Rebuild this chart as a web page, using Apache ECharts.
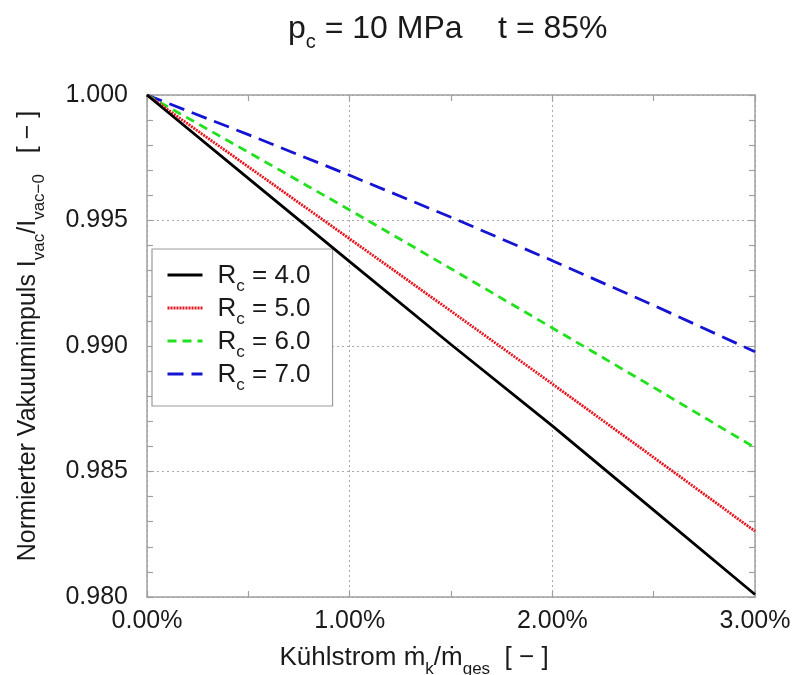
<!DOCTYPE html>
<html>
<head>
<meta charset="utf-8">
<script src="https://cdn.jsdelivr.net/npm/echarts@6/dist/echarts.min.js"></script>
<style>
  html, body { margin: 0; padding: 0; background: #fff; }
  #chart { width: 795px; height: 675px; }
</style>
</head>
<body>
<div id="chart"></div>
<script>
// Cooling mass-flow fraction in percent
const coolantShare = [0, 0.5, 1.0, 1.5, 2.0, 2.5, 3.0];

// Normalised vacuum specific impulse for each mixture ratio R_c
const rc4 = [1.0000, 0.99668, 0.99336, 0.99006, 0.98682, 0.98346, 0.98010];
const rc5 = [1.0000, 0.99714, 0.99427, 0.99139, 0.98849, 0.98556, 0.98262];
const rc6 = [1.0000, 0.99772, 0.99542, 0.99308, 0.99072, 0.98835, 0.98595];
const rc7 = [1.0000, 0.99842, 0.99680, 0.99513, 0.99340, 0.99162, 0.98977];

const seriesNames = ['4.0', '5.0', '6.0', '7.0'];
const seriesValues = [rc4, rc5, rc6, rc7];
const seriesColors = ['#000000', '#e8141e', '#22e01e', '#1414d2'];
const seriesDash = ['solid', [2, 1], [9, 6], [16, 8]];

const xTicks = [0, 1, 2, 3];
const yTicks = [0.980, 0.985, 0.990, 0.995, 1.000];

const FONT = 'Liberation Sans, Arial, sans-serif';
const AXIS_GRAY = '#a0a0a0';
const TEXT = '#1a1a1a';

function pairs(xs, ys) { return xs.map((x, i) => [x, ys[i]]); }

function subRich(size, subSize, lh, drop) {
  return {
    n: { fontFamily: FONT, fontSize: size, fontWeight: 'normal', color: TEXT, lineHeight: lh, verticalAlign: 'bottom' },
    s: { fontFamily: FONT, fontSize: subSize, fontWeight: 'normal', color: TEXT, lineHeight: lh - 8, verticalAlign: 'bottom', padding: [0, 0, -drop, 0] }
  };
}

const chart = echarts.init(document.getElementById('chart'), null, { renderer: 'canvas' });

const baseAxis = {
  type: 'value',
  axisLine: { show: true, onZero: false, lineStyle: { color: AXIS_GRAY, width: 1.5 } },
  axisTick: { show: true, inside: true, length: 6, lineStyle: { color: AXIS_GRAY, width: 1.2 } },
  minorTick: { show: true, length: 6, lineStyle: { color: AXIS_GRAY, width: 1.2 } },
  splitLine: { show: false },
  minorSplitLine: { show: false }
};

const option = {
  backgroundColor: '#ffffff',
  animation: false,
  title: {
    text: '{n|p}{s|c}{n| = 10 MPa    t = 85%}',
    left: 283,
    top: 2,
    textStyle: { fontWeight: 'normal', rich: subRich(32, 20, 38, 7) }
  },
  grid: { left: 147, right: 40, top: 95, bottom: 78, containLabel: false, outerBoundsMode: 'none' },
  legend: {
    orient: 'vertical',
    left: 152,
    top: 249,
    width: 182,
    itemWidth: 35,
    itemHeight: 14,
    itemGap: 1,
    padding: [14, 22, 12, 14],
    backgroundColor: '#ffffff',
    borderColor: '#9a9a9a',
    borderWidth: 1.2,
    borderRadius: 0,
    // line sample only, no marker
    itemStyle: { opacity: 0 },
    lineStyle: { width: 3 },
    data: seriesNames,
    formatter: n => '{n|R}{s|c}{n| = ' + n + '}',
    textStyle: { padding: [0, 0, 0, 10], rich: subRich(26, 17, 28, 6) }
  },
  xAxis: [
    Object.assign({}, baseAxis, {
      min: 0, max: 3, interval: 1,
      minorTick: Object.assign({}, baseAxis.minorTick, { splitNumber: 2 }),
      splitLine: { show: true, lineStyle: { color: '#aaaaaa', type: [2, 3], width: 1 } },
      axisLabel: {
        fontFamily: FONT, fontSize: 25, color: TEXT, margin: 12,
        formatter: v => xTicks.indexOf(v) >= 0 ? v.toFixed(2) + '%' : ''
      },
      name: '{n|Kühlstrom ṁ}{s|k}{n|/ṁ}{s|ges}{n|  [ − ]}',
      nameLocation: 'middle',
      nameGap: 44,
      nameTextStyle: { padding: [0, 74, 0, 0], rich: subRich(26, 17, 30, 7) }
    }),
    Object.assign({}, baseAxis, {
      position: 'top',
      min: 0, max: 3, interval: 1,
      minorTick: Object.assign({}, baseAxis.minorTick, { splitNumber: 2 }),
      axisLabel: { show: false }
    })
  ],
  yAxis: [
    Object.assign({}, baseAxis, {
      min: 0.98, max: 1.0, interval: 0.005,
      minorTick: Object.assign({}, baseAxis.minorTick, { splitNumber: 5 }),
      splitLine: { show: true, lineStyle: { color: '#aaaaaa', type: [2, 3], width: 1 } },
      axisLabel: {
        fontFamily: FONT, fontSize: 25, color: TEXT, margin: 19,
        formatter: v => v.toFixed(3)
      },
      name: '{n|Normierter Vakuumimpuls I}{s|vac}{n|/I}{s|vac−0}{n|   [ − ]}',
      nameLocation: 'middle',
      nameRotate: 90,
      nameGap: 106,
      nameTextStyle: { padding: [0, 0, 0, 20], rich: subRich(25, 17, 30, 7) }
    }),
    Object.assign({}, baseAxis, {
      position: 'right',
      min: 0.98, max: 1.0, interval: 0.005,
      minorTick: Object.assign({}, baseAxis.minorTick, { splitNumber: 5 }),
      axisLabel: { show: false }
    })
  ],
  series: seriesNames.map((n, i) => ({
    name: n,
    type: 'line',
    xAxisIndex: 0,
    yAxisIndex: 0,
    showSymbol: false,
    symbol: 'none',
    smooth: false,
    clip: true,
    data: pairs(coolantShare, seriesValues[i]),
    lineStyle: { color: seriesColors[i], width: 2.8, type: seriesDash[i] },
    itemStyle: { color: seriesColors[i] },
    z: 10 - i
  }))
};

chart.setOption(option);
</script>
</body>
</html>
